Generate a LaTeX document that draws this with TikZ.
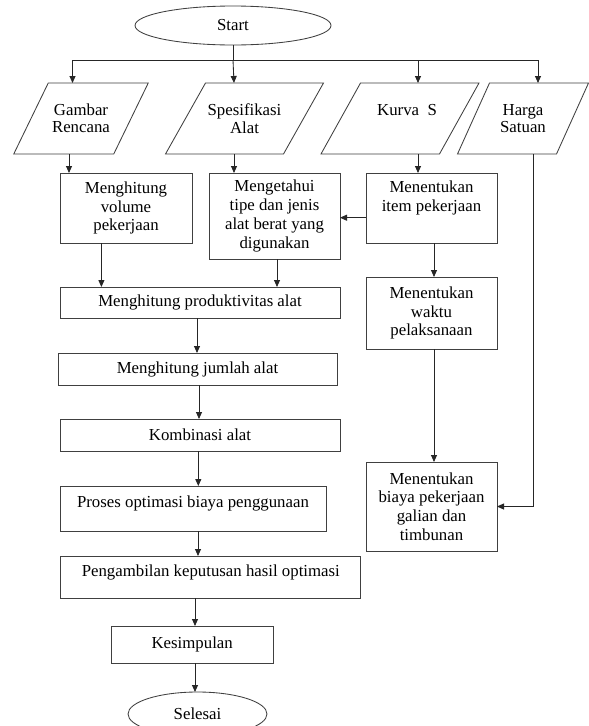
\documentclass[tikz,border=0pt]{standalone}
\usepackage{fontspec}
\setmainfont{Liberation Serif}
\usetikzlibrary{arrows.meta,shapes.geometric}
\begin{document}
\begin{tikzpicture}[x=1pt,y=-1pt,
  line/.style={draw=black!85,line width=0.85pt},
  arr/.style={line,-{Triangle[length=7pt,width=6pt]}},
  box/.style={draw=black!75,line width=0.85pt,rectangle,inner sep=0pt,outer sep=0pt,align=center,
    font=\fontsize{16.8}{18.7}\selectfont},
  holder/.style={rectangle,inner sep=0pt,outer sep=0pt,align=center,minimum height=71pt,
    font=\fontsize{16.8}{17.5}\selectfont},
  para/.style={draw=black!75,line width=0.85pt},
  term/.style={draw=black!75,line width=0.85pt,ellipse,inner sep=0pt,outer sep=0pt,
    font=\fontsize{16.8}{18.7}\selectfont}
]
\useasboundingbox (0,0) rectangle (589,726);
\clip (0,0) rectangle (589,726);
\fill[white] (0,0) rectangle (589,726);

% terminals
\node[term,minimum width=196pt,minimum height=39pt] (start) at (233,25.5) {Start};
\node[term,minimum width=139pt,minimum height=44pt] (sel) at (197.5,714) {Selesai};

% input parallelograms (text holders sized to the shape's side and height)
\node[holder,minimum width=100pt] (gam) at (81,118.5) {Gambar\\Rencana};
\node[holder,minimum width=118pt] (spe) at (244.5,118.5) {Spesifikasi\\Alat};
\node[holder,minimum width=118.5pt,text depth=17pt] (kur) at (400,118.5) {\hspace*{14pt}Kurva\ \ S};
\node[holder,minimum width=99pt] (har) at (523,118.5) {Harga\\Satuan};
\draw[para] ([xshift=17.25pt]gam.north west) -- ([xshift=17.25pt]gam.north east)
  -- ([xshift=-17.25pt]gam.south east) -- ([xshift=-17.25pt]gam.south west) -- cycle;
\draw[para] ([xshift=20pt]spe.north west) -- ([xshift=20pt]spe.north east)
  -- ([xshift=-20pt]spe.south east) -- ([xshift=-20pt]spe.south west) -- cycle;
\draw[para] ([xshift=19.75pt]kur.north west) -- ([xshift=19.75pt]kur.north east)
  -- ([xshift=-19.75pt]kur.south east) -- ([xshift=-19.75pt]kur.south west) -- cycle;
\draw[para] ([xshift=16pt]har.north west) -- ([xshift=16pt]har.north east)
  -- ([xshift=-16pt]har.south east) -- ([xshift=-16pt]har.south west) -- cycle;

% process boxes
\node[box,minimum width=132pt,minimum height=70pt] (vol) at (126,208) {Menghitung\\volume\\pekerjaan};
\node[box,minimum width=131pt,minimum height=86pt] (tau) at (274.5,216) {Mengetahui\\tipe dan jenis\\alat berat yang\\digunakan};
\node[box,minimum width=131pt,minimum height=70pt] (item) at (431.5,208) {Menentukan\\item pekerjaan\\\strut};
\node[box,minimum width=131pt,minimum height=72pt] (waktu) at (431.5,313) {Menentukan\\waktu\\pelaksanaan};
\node[box,minimum width=280pt,minimum height=31pt] (prod) at (200,302.5) {Menghitung produktivitas alat};
\node[box,minimum width=279pt,minimum height=32pt] (jml) at (197.5,369) {Menghitung jumlah alat};
\node[box,minimum width=280pt,minimum height=32pt] (komb) at (200,435) {Kombinasi alat};
\node[box,minimum width=266pt,minimum height=45pt,text depth=13pt] (opt) at (193,508.5) {Proses optimasi biaya penggunaan};
\node[box,minimum width=131pt,minimum height=89pt] (biaya) at (431.5,506.5) {Menentukan\\biaya pekerjaan\\galian dan\\timbunan};
\node[box,minimum width=300pt,minimum height=42pt,text depth=13pt] (ambil) at (210.8,577) {Pengambilan keputusan hasil optimasi};
\node[box,minimum width=162.5pt,minimum height=37pt] (kes) at (192.2,644.5) {Kesimpulan};

% connectors
\coordinate (bus) at (start.south |- 0,60);
\draw[line] (start.south) -- (bus);
\draw[arr] (bus) -| ([xshift=-8.5pt]gam.north);
\draw[arr] (bus) -- ([xshift=-10.5pt]spe.north);
\draw[arr] (bus) -| ([xshift=18pt]kur.north);
\draw[arr] (bus) -| ([xshift=15pt]har.north);

\draw[arr] ([xshift=-12pt]gam.south) -- ([xshift=-12pt]gam.south |- vol.north);
\draw[arr] ([xshift=-10.5pt]spe.south) -- ([xshift=-10.5pt]spe.south |- tau.north);
\draw[arr] ([xshift=18pt]kur.south) -- ([xshift=18pt]kur.south |- item.north);
\draw[arr] ([xshift=10.5pt]har.south) |- (biaya.east);

\draw[arr] ([yshift=-9.7pt]item.west) -- ([yshift=-9.7pt]item.west -| tau.east);
\draw[arr] ([xshift=2.5pt]item.south) -- ([xshift=2.5pt]item.south |- waktu.north);
\draw[arr] ([xshift=2.5pt]waktu.south) -- ([xshift=2.5pt]waktu.south |- biaya.north);

\draw[arr] ([xshift=-24.6pt]vol.south) -- ([xshift=-24.6pt]vol.south |- prod.north);
\draw[arr] ([xshift=2.5pt]tau.south) -- ([xshift=2.5pt]tau.south |- prod.north);
\draw[arr] ([xshift=-3pt]prod.south) -- ([xshift=-3pt]prod.south |- jml.north);
\draw[arr] ([xshift=1.5pt]jml.south) -- ([xshift=1.5pt]jml.south |- komb.north);
\draw[arr] ([xshift=-1.7pt]komb.south) -- ([xshift=-1.7pt]komb.south |- opt.north);
\draw[arr] ([xshift=5pt]opt.south) -- ([xshift=5pt]opt.south |- ambil.north);
\draw[arr] ([xshift=-15.8pt]ambil.south) -- ([xshift=-15.8pt]ambil.south |- kes.north);
\draw[arr] ([xshift=2.8pt]kes.south) -- ([xshift=2.8pt]kes.south |- sel.north);
\end{tikzpicture}
\end{document}
